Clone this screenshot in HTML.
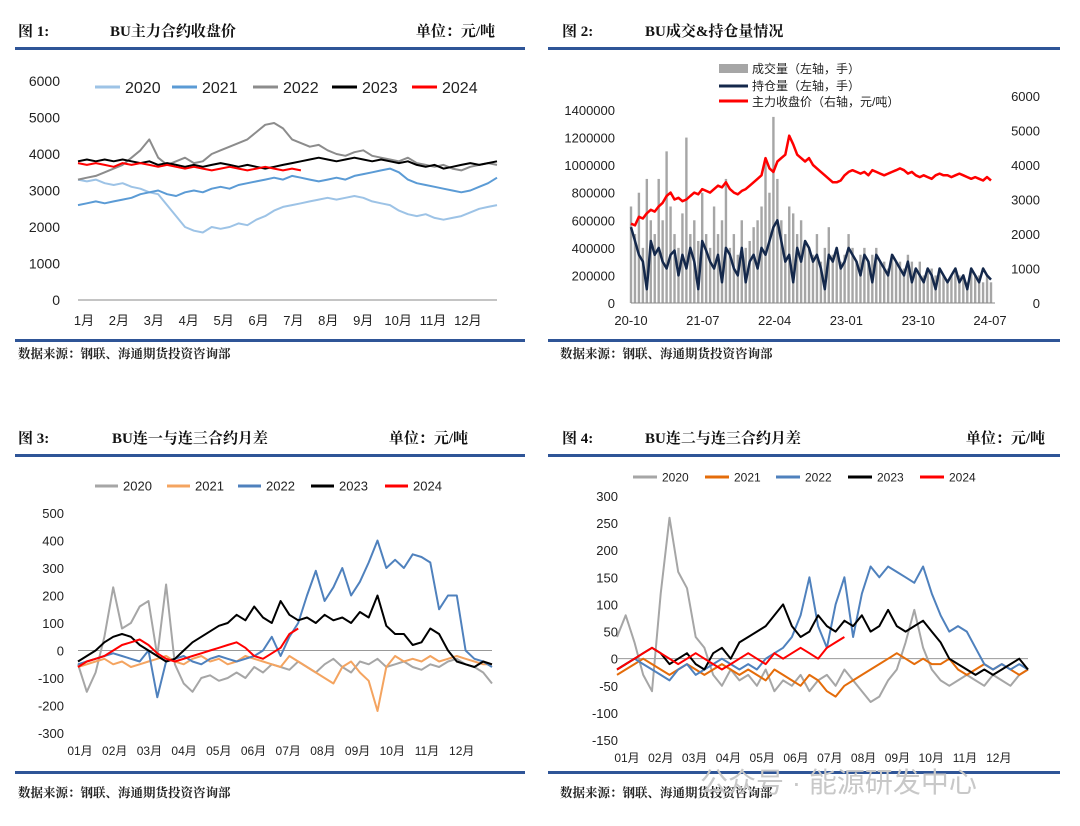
<!DOCTYPE html>
<html><head><meta charset="utf-8">
<style>
html,body{margin:0;padding:0;background:#fff;}
svg{display:block;font-family:"Liberation Sans","Noto Sans CJK SC",sans-serif;}
.t{font-size:15px;font-weight:bold;fill:#111;font-family:"Liberation Serif","Noto Serif CJK SC",serif;}
.src{font-size:12.5px;font-weight:bold;fill:#222;font-family:"Liberation Serif","Noto Serif CJK SC",serif;}
</style></head>
<body>
<svg id="s" width="1080" height="826" viewBox="0 0 1080 826" xmlns="http://www.w3.org/2000/svg">
<g>
<text class="t" x="18" y="36">图 1:</text>
<text class="t" x="110" y="36">BU主力合约收盘价</text>
<text class="t" x="495" y="36" text-anchor="end">单位：元/吨</text>
<rect x="15" y="47" width="510" height="3" fill="#2f5597"/>
<rect x="15" y="339" width="510" height="3" fill="#2f5597"/>
<text class="src" x="18" y="358">数据来源：钢联、海通期货投资咨询部</text>
</g>
<g>
<text class="t" x="562" y="36">图 2:</text>
<text class="t" x="645" y="36">BU成交&amp;持仓量情况</text>
<rect x="548" y="47" width="512" height="3" fill="#2f5597"/>
<rect x="548" y="339" width="512" height="3" fill="#2f5597"/>
<text class="src" x="560" y="358">数据来源：钢联、海通期货投资咨询部</text>
</g>
<g>
<text class="t" x="18" y="443">图 3:</text>
<text class="t" x="112" y="443">BU连一与连三合约月差</text>
<text class="t" x="468" y="443" text-anchor="end">单位：元/吨</text>
<rect x="15" y="454" width="510" height="3" fill="#2f5597"/>
<rect x="15" y="771" width="510" height="3" fill="#2f5597"/>
<text class="src" x="18" y="797">数据来源：钢联、海通期货投资咨询部</text>
</g>
<g>
<text class="t" x="562" y="443">图 4:</text>
<text class="t" x="645" y="443">BU连二与连三合约月差</text>
<text class="t" x="1045" y="443" text-anchor="end">单位：元/吨</text>
<rect x="548" y="454" width="512" height="3" fill="#2f5597"/>
<rect x="548" y="771" width="512" height="3" fill="#2f5597"/>
<text class="src" x="560" y="797">数据来源：钢联、海通期货投资咨询部</text>
</g>
<text x="700" y="792" font-size="28" fill="#c8c8c8">公众号 · 能源研发中心</text>
</svg>
<script>
// ---------- Chart 1 data ----------
const c1Months=["1月","2月","3月","4月","5月","6月","7月","8月","9月","10月","11月","12月"];
const c1Ticks=[0,1000,2000,3000,4000,5000,6000];
const c1Years=["2020","2021","2022","2023","2024"];
const c1y2020=[3300,3250,3300,3200,3150,3200,3100,3050,2950,2900,2600,2300,2000,1900,1850,2000,1950,2000,2100,2050,2200,2300,2450,2550,2600,2650,2700,2750,2800,2750,2800,2850,2800,2700,2650,2600,2450,2350,2300,2350,2250,2200,2250,2300,2400,2500,2550,2600];
const c1y2021=[2600,2650,2700,2650,2700,2750,2800,2900,2950,3000,2900,2850,2950,3000,2950,3050,3100,3050,3150,3200,3250,3300,3350,3300,3400,3350,3300,3250,3300,3350,3300,3400,3450,3500,3550,3600,3500,3300,3200,3150,3100,3050,3000,2950,3000,3100,3200,3350];
const c1y2022=[3300,3350,3400,3500,3600,3700,3900,4100,4400,3900,3700,3800,3900,3750,3800,4000,4100,4200,4300,4400,4600,4800,4850,4700,4400,4300,4200,4250,4100,4000,3950,4050,4100,3950,3900,3850,3800,3900,3750,3700,3650,3700,3600,3550,3650,3700,3750,3700];
const c1y2023=[3800,3850,3800,3850,3800,3850,3800,3750,3800,3700,3750,3700,3650,3700,3650,3700,3750,3700,3650,3700,3650,3600,3650,3700,3750,3800,3850,3900,3850,3800,3850,3900,3850,3800,3850,3800,3750,3800,3700,3650,3700,3600,3650,3700,3750,3700,3750,3800];
const c1y2024=[3750,3700,3750,3700,3650,3750,3700,3750,3700,3650,3700,3650,3600,3650,3600,3550,3600,3650,3600,3550,3600,3650,3600,3550,3600,3550];
// ---------- Chart 2 data ----------
const c2Labels=["20-10","21-07","22-04","23-01","23-10","24-07"];
const c2LeftTicks=[0,200000,400000,600000,800000,1000000,1200000,1400000];
const c2RightTicks=[0,1000,2000,3000,4000,5000,6000];
const c2Volume=[700000,500000,800000,400000,900000,600000,500000,900000,600000,1100000,700000,500000,400000,650000,1200000,500000,600000,450000,800000,500000,400000,700000,500000,600000,900000,400000,500000,350000,600000,400000,450000,550000,600000,700000,1050000,800000,1350000,900000,600000,500000,700000,650000,500000,600000,450000,400000,350000,500000,300000,400000,550000,350000,400000,300000,350000,500000,400000,300000,350000,400000,300000,350000,400000,300000,300000,250000,350000,300000,300000,250000,350000,300000,250000,300000,200000,250000,250000,200000,250000,200000,150000,200000,250000,200000,200000,150000,250000,200000,200000,150000,200000,150000];
const c2OpenInt=[550000,450000,350000,300000,100000,450000,350000,400000,300000,250000,350000,380000,200000,350000,250000,400000,300000,100000,450000,380000,300000,250000,350000,150000,400000,350000,250000,200000,400000,150000,300000,350000,250000,400000,350000,450000,550000,600000,450000,300000,350000,150000,400000,300000,450000,400000,300000,350000,250000,100000,350000,300000,400000,250000,300000,400000,350000,300000,200000,350000,300000,150000,350000,300000,250000,200000,350000,300000,250000,200000,300000,150000,250000,200000,150000,250000,200000,100000,250000,200000,150000,200000,250000,150000,200000,100000,250000,200000,150000,250000,200000,170000];
const c2Price=[2300,2250,2500,2450,2600,2700,2650,2800,2900,3100,3200,3000,3050,2950,3000,3100,3200,3150,3300,3250,3200,3300,3400,3350,3500,3300,3200,3150,3250,3300,3400,3500,3600,3700,4200,3900,3800,4100,4200,4300,4850,4600,4300,4200,4100,4200,4000,3900,3800,3700,3600,3500,3500,3550,3700,3800,3850,3800,3750,3800,3700,3850,3800,3750,3700,3750,3800,3850,3900,3850,3750,3800,3700,3650,3700,3650,3600,3700,3750,3700,3700,3650,3700,3750,3700,3650,3600,3650,3600,3550,3650,3550];
// ---------- Chart 3 data ----------
const c3Months=["01月","02月","03月","04月","05月","06月","07月","08月","09月","10月","11月","12月"];
const c3Ticks=[-300,-200,-100,0,100,200,300,400,500];
const c3y2020=[-50,-150,-80,50,230,80,100,160,180,-20,240,-50,-120,-150,-100,-90,-110,-100,-80,-100,-60,-80,-50,-60,-70,-40,-60,-80,-50,-30,-60,-80,-40,-50,-30,-60,-50,-40,-60,-70,-50,-60,-40,-30,-50,-60,-80,-120];
const c3y2021=[-60,-50,-40,-30,-50,-40,-60,-50,-40,-30,-20,-40,-50,-30,-20,-40,-30,-50,-40,-20,-30,-40,-50,-60,-20,-40,-60,-80,-100,-120,-60,-40,-80,-110,-220,-60,-20,-40,-30,-40,-20,-40,-30,-20,-30,-40,-50,-50];
const c3y2022=[-50,-40,-30,-20,-10,-20,-30,-40,0,-170,-40,-30,-20,-40,-50,-30,-20,-30,-40,-30,-20,0,50,-20,50,100,200,290,180,230,300,200,250,320,400,300,330,300,350,340,320,150,200,200,0,-30,-40,-60];
const c3y2023=[-40,-20,0,30,50,60,50,20,0,-20,-40,-30,0,30,50,70,90,100,130,110,160,120,100,180,130,110,120,100,130,110,120,100,140,120,200,90,60,60,20,30,80,60,0,-40,-50,-60,-40,-50];
const c3y2024=[-60,-40,-30,-20,0,20,30,40,20,-10,-30,-40,-30,-20,-10,0,10,20,30,10,-20,-30,-10,10,60,80];
// ---------- Chart 4 data ----------
const c4Ticks=[-150,-100,-50,0,50,100,150,200,250,300];
const c4y2020=[40,80,30,-30,-60,120,260,160,130,40,20,-30,-50,-20,-40,-30,-50,-20,-60,-40,-50,-30,-60,-40,-30,-50,-20,-40,-60,-80,-70,-40,-20,30,90,20,-20,-40,-50,-40,-30,-40,-50,-30,-40,-50,-30,-20];
const c4y2021=[-30,-20,-10,0,-10,-20,-30,-20,-10,-20,-30,-20,-10,-20,-30,-20,-30,-40,-20,-30,-40,-50,-30,-40,-60,-70,-50,-40,-30,-20,-10,0,10,0,-10,0,-10,-10,0,-20,-30,-20,-10,-20,-10,-20,-30,-20];
const c4y2022=[-20,-10,0,-10,-20,-30,-40,-20,-10,-30,-20,-10,0,-10,-20,-10,-20,0,10,20,40,80,150,60,20,100,150,40,120,170,150,170,160,150,140,170,120,80,50,60,50,20,-10,-20,-10,-20,-10,-20];
const c4y2023=[-20,-10,0,10,20,10,-10,0,10,-10,-20,10,20,0,30,40,50,60,80,100,60,40,50,80,60,50,70,60,80,50,60,90,60,50,60,70,50,30,0,-10,-20,-30,-20,-30,-20,-10,0,-20];
const c4y2024=[-20,-10,0,10,20,10,0,-10,0,10,0,-10,-20,-10,0,10,0,-10,10,0,10,20,10,0,20,30,40];

const NS="http://www.w3.org/2000/svg";
const svg=document.getElementById('s');
function mk(tag,attrs,parent,text){const e=document.createElementNS(NS,tag);for(const k in attrs)e.setAttribute(k,attrs[k]);if(text!==undefined)e.textContent=text;(parent||svg).appendChild(e);return e;}
function linear(d0,d1,r0,r1){return v=>r0+(v-d0)/(d1-d0)*(r1-r0);}
function drawLine(vals,xs,ys,color,w,name){
  const pts=vals.map((v,i)=>xs(i).toFixed(1)+","+ys(v).toFixed(1)).join(" ");
  const p=mk('polyline',{points:pts,fill:"none",stroke:color,"stroke-width":w,"stroke-linejoin":"round"});
  
  
}
function legend(x,y,len,color,label,fs,name){
  const g=mk('g',{});
  
  
  mk('line',{x1:x,y1:y,x2:x+len,y2:y,stroke:color,"stroke-width":3},g);
  mk('text',{x:x+len+5,y:y+fs*0.36,"font-size":fs,fill:"#222"},g,label);
}

// ===== Chart 1 =====
(function(){
  const X0=78,X1=497,N=48;
  const xs=linear(0,N-1,X0,X1), ys=linear(0,6000,300,81);
  c1Ticks.forEach(t=>{const e=mk('text',{x:60,y:ys(t)+5,"text-anchor":"end","font-size":14,fill:"#222"},svg,String(t));
    });
  const ax=mk('line',{x1:X0,y1:300,x2:X1,y2:300,stroke:"#888","stroke-width":1});
  
  c1Months.forEach((m,i)=>{const e=mk('text',{x:84+i*34.9,y:325,"text-anchor":"middle","font-size":13,fill:"#222"},svg,m);
    });
  const cols=["#9dc3e6","#5b9bd5","#8c8c8c","#000000","#ff0000"];
  const ser=[c1y2020,c1y2021,c1y2022,c1y2023,c1y2024];
  ser.forEach((s,k)=>drawLine(s,xs,ys,cols[k],2,'chart1-line-'+c1Years[k]));
  const lx=[95,172,253,332,412];
  c1Years.forEach((y,k)=>legend(lx[k],87,25,cols[k],y,16,'chart1-legend-'+y));
})();

// ===== Chart 2 =====
(function(){
  const X0=631,X1=991,N=c2Volume.length;
  const xs=linear(0,N-1,X0,X1), yl=linear(0,1400000,303,110), yr=linear(0,6000,303,96);
  c2LeftTicks.forEach(t=>{const e=mk('text',{x:615,y:yl(t)+5,"text-anchor":"end","font-size":13,fill:"#222"},svg,String(t));
    });
  c2RightTicks.forEach(t=>{const e=mk('text',{x:1040,y:yr(t)+5,"text-anchor":"end","font-size":13,fill:"#222"},svg,String(t));
    });
  c2Volume.forEach((v,i)=>{const r=mk('rect',{x:xs(i)-1.2,y:yl(v),width:2.4,height:303-yl(v),fill:"#a6a6a6"});
    });
  const ax=mk('line',{x1:X0,y1:303,x2:X1+4,y2:303,stroke:"#888","stroke-width":1});
  
  c2Labels.forEach((l,i)=>{const e=mk('text',{x:631+i*71.8,y:325,"text-anchor":"middle","font-size":13,fill:"#222"},svg,l);
    });
  drawLine(c2OpenInt,xs,yl,"#14284b",2.5,'chart2-open-interest-line');
  drawLine(c2Price,xs,yr,"#ff0000",2.5,'chart2-price-line');
  const g=mk('g',{});
  mk('rect',{x:719,y:64,width:29,height:9,fill:"#a6a6a6"},g);
  mk('text',{x:752,y:73,"font-size":12,fill:"#222"},g,"成交量（左轴，手）");
  mk('line',{x1:719,y1:86,x2:748,y2:86,stroke:"#14284b","stroke-width":3},g);
  mk('text',{x:752,y:90,"font-size":12,fill:"#222"},g,"持仓量（左轴，手）");
  mk('line',{x1:719,y1:101,x2:748,y2:101,stroke:"#ff0000","stroke-width":3},g);
  mk('text',{x:752,y:106,"font-size":12,fill:"#222"},g,"主力收盘价（右轴，元/吨）");
})();

// ===== Chart 3 =====
(function(){
  const X0=78,X1=492,N=48;
  const xs=linear(0,N-1,X0,X1), ys=linear(-300,500,733,513);
  c3Ticks.forEach(t=>{const e=mk('text',{x:64,y:ys(t)+5,"text-anchor":"end","font-size":13,fill:"#222"},svg,String(t));
    });
  const ax=mk('line',{x1:X0,y1:ys(0),x2:X1,y2:ys(0),stroke:"#999","stroke-width":1});
  
  c3Months.forEach((m,i)=>{const e=mk('text',{x:80+i*34.7,y:755,"text-anchor":"middle","font-size":12,fill:"#222"},svg,m);
    });
  const cols=["#a6a6a6","#f4a460","#4f81bd","#000000","#ff0000"];
  [c3y2020,c3y2021,c3y2022,c3y2023,c3y2024].forEach((s,k)=>drawLine(s,xs,ys,cols[k],2,'chart3-line-'+c1Years[k]));
  const lx=[95,167,238,311,385];
  c1Years.forEach((y,k)=>legend(lx[k],486,23,cols[k],y,13,'chart3-legend-'+y));
})();

// ===== Chart 4 =====
(function(){
  const X0=617,X1=1028,N=48;
  const xs=linear(0,N-1,X0,X1), ys=linear(-150,300,740,496);
  c4Ticks.forEach(t=>{const e=mk('text',{x:618,y:ys(t)+5,"text-anchor":"end","font-size":13,fill:"#222"},svg,String(t));
    });
  const ax=mk('line',{x1:X0,y1:ys(0),x2:X1,y2:ys(0),stroke:"#999","stroke-width":1});
  
  c3Months.forEach((m,i)=>{const e=mk('text',{x:627+i*33.8,y:762,"text-anchor":"middle","font-size":12,fill:"#222"},svg,m);
    });
  const cols=["#a6a6a6","#e46c0a","#4f81bd","#000000","#ff0000"];
  [c4y2020,c4y2021,c4y2022,c4y2023,c4y2024].forEach((s,k)=>drawLine(s,xs,ys,cols[k],2,'chart4-line-'+c1Years[k]));
  const lx=[633,705,776,848,920];
  c1Years.forEach((y,k)=>legend(lx[k],477,24,cols[k],y,12,'chart4-legend-'+y));
})();
</script>
</body></html>
